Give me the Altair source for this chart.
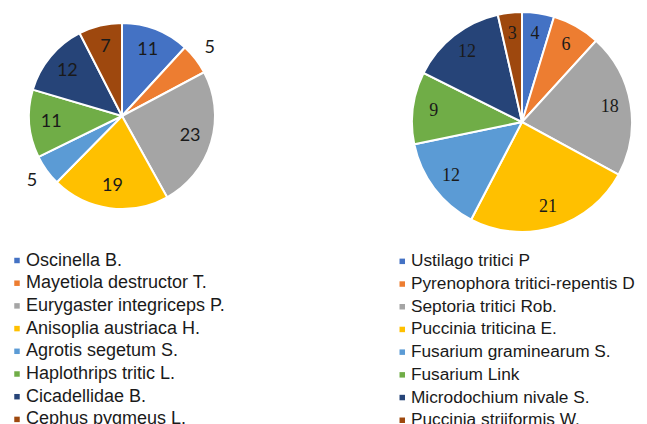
import altair as alt
import pandas as pd
import math

pests = ["Oscinella B.", "Mayetiola destructor T.", "Eurygaster integriceps P.",
         "Anisoplia austriaca H.", "Agrotis segetum S.", "Haplothrips tritic L.",
         "Cicadellidae B.", "Cephus pygmeus L."]
pest_values = [11, 5, 23, 19, 5, 11, 12, 7]

diseases = ["Ustilago tritici P", "Pyrenophora tritici-repentis D", "Septoria tritici Rob.",
            "Puccinia triticina E.", "Fusarium graminearum  S.", "Fusarium Link",
            "Microdochium nivale S.", "Puccinia striiformis W."]
disease_values = [4, 6, 18, 21, 12, 9, 12, 3]

palette = ["#4472C4", "#ED7D31", "#A5A5A5", "#FFC000", "#5B9BD5", "#70AD47", "#264478", "#9E480E"]

left_df = pd.DataFrame({"cat": pests, "v": pest_values, "i": range(len(pests))})
right_df = pd.DataFrame({"cat": diseases, "v": disease_values, "i": range(len(diseases))})


def pie(df, cats, radius, label_r, outside_r, outside_max, font,
        lx, ly, lab_size, w, h):
    arc = alt.Chart(df).mark_arc(radius=radius, stroke="white", strokeWidth=2).encode(
        theta=alt.Theta("v:Q", stack=True),
        order=alt.Order("i:Q"),
        color=alt.Color(
            "cat:N",
            scale=alt.Scale(domain=cats, range=palette),
            title=None,
            legend=alt.Legend(
                orient="none", legendX=lx, legendY=ly, padding=0,
                symbolType="square", symbolSize=30, symbolStrokeWidth=0,
                labelFont="Liberation Sans", labelFontSize=lab_size, labelColor="#1a1a1a",
                labelOffset=0, rowPadding=4.7, labelLimit=400,
            ),
        ),
    )
    lab = alt.Chart(df).transform_joinaggregate(
        total="sum(v)"
    ).transform_stack(
        stack="v", groupby=[], as_=["s0", "s1"], sort=[alt.SortField("i")]
    ).transform_calculate(
        mid="(datum.s0 + datum.s1) / 2 / datum.total"
    )
    theta_enc = alt.Theta("mid:Q", stack=False,
                          scale=alt.Scale(domain=[0, 1], range=[0, 2 * math.pi]))
    layers = [arc]
    inner = lab.transform_filter(f"datum.v > {outside_max}").mark_text(
        font=font, fontSize=18, color="#1a1a1a", radius=label_r
    ).encode(theta=theta_enc, text="v:Q")
    layers.append(inner)
    if outside_max > 0:
        outer = lab.transform_filter(f"datum.v <= {outside_max}").mark_text(
            font=font, fontSize=18, color="#1a1a1a", radius=outside_r
        ).encode(theta=theta_enc, text="v:Q")
        layers.append(outer)
    return alt.layer(*layers).resolve_scale(theta="independent").properties(width=w, height=h)


left = pie(left_df, pests, 93, 71, 111, 5, "Lato", 0, 239.5, 18, 228, 208)
right = pie(right_df, diseases, 110, 89, 89, 0, "Liberation Serif", -18.4, 240.7, 17.3, 220, 220)

chart = alt.hconcat(left, right, spacing=157).resolve_scale(
    color="independent", theta="independent"
).properties(padding=0).configure_view(stroke=None)

chart.save("out.html", embed_options={"renderer": "svg", "actions": False})
